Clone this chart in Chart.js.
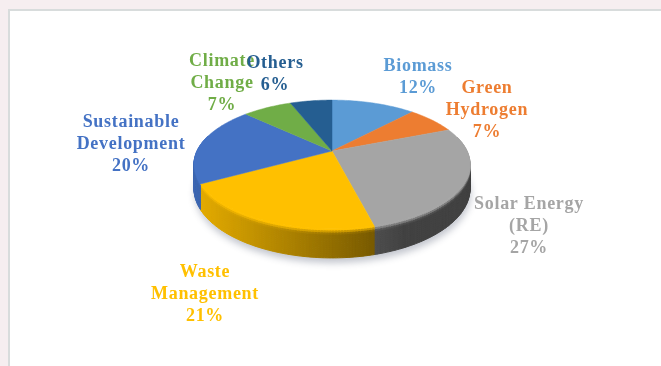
<!DOCTYPE html>
<html lang="en">
  <head>
    <meta charset="UTF-8" />
    <title>Research areas</title>
    <script src="https://cdn.jsdelivr.net/npm/chart.js"></script>
    <style>
      html, body { margin: 0; height: 100%; overflow: hidden; background: #f6eef0; }
      #panel {
        position: absolute; left: 8px; top: 9px; right: -4px; bottom: -4px;
        background: #fff; border: 2px solid #d8dcdc;
      }
      canvas { position: absolute; left: 0; top: 0; }
    </style>
  </head>
  <body>
    <div id="panel"></div>
    <canvas id="pie" width="661" height="366"></canvas>
    <script>
      const categories = ["Biomass", "Green Hydrogen", "Solar Energy (RE)", "Waste Management", "Sustainable Development", "Climate Change", "Others"];
      const values = [12, 7, 27, 21, 20, 7, 6];
      const sliceColors = ["#5b9bd5", "#ed7d31", "#a5a5a5", "#ffc000", "#4472c4", "#70ad47", "#255e91"];
      const labelLines = [["Biomass"], ["Green", "Hydrogen"], ["Solar Energy", "(RE)"], ["Waste", "Management"], ["Sustainable", "Development"], ["Climate", "Change"], ["Others"]];
      const labelCenters = [[418, 66], [487, 88], [529, 204], [205, 272], [131, 122], [222, 61], [275, 63]];
      const lineHeight = 22;

      // tilt of the disc: squash of the y axis, perspective strength, wall height
      const squash = 0.456;
      const persp = 0.209;
      const wall = 23;

      function project(arc, angle, drop) {
        const u = Math.cos(angle);
        const v = -Math.sin(angle);
        const w = 1 + persp * v;
        const r = arc.outerRadius;
        return [arc.x + (r * u) / w, arc.y - (r * squash * v) / w + drop / w];
      }

      function mix(hex, target, f) {
        const n = parseInt(hex.slice(1), 16);
        const c = [n >> 16, (n >> 8) & 255, n & 255];
        return "rgb(" + c.map((x) => Math.round(x + (target - x) * f)).join(",") + ")";
      }

      function sliceAngles(arc, stepSize) {
        const n = Math.max(2, Math.ceil((arc.endAngle - arc.startAngle) / stepSize));
        const out = [];
        for (let i = 0; i <= n; i++) out.push(arc.startAngle + ((arc.endAngle - arc.startAngle) * i) / n);
        return out;
      }

      function drawShadow(ctx, arcs) {
        ctx.save();
        ctx.shadowColor = "rgba(40,50,80,0.28)";
        ctx.shadowBlur = 7;
        ctx.shadowOffsetX = 1;
        ctx.shadowOffsetY = 5;
        ctx.fillStyle = "#fff";
        ctx.beginPath();
        arcs.forEach((arc) => {
          sliceAngles(arc, 0.03).forEach((a) => {
            const p = project(arc, a, wall);
            ctx.lineTo(p[0], p[1]);
          });
        });
        ctx.closePath();
        ctx.fill();
        ctx.restore();
      }

      // side of the disc, shaded across its width and down its height
      function drawWall(ctx, arc, color) {
        const angles = sliceAngles(arc, 0.017);
        const rows = 14;
        const left = arc.x - arc.outerRadius;
        const span = arc.outerRadius * 2;
        for (let i = 0; i < angles.length - 1; i++) {
          if (Math.sin(angles[i]) < -0.25) continue;
          for (let j = 0; j < rows; j++) {
            const a = project(arc, angles[i], (wall * j) / rows);
            const b = project(arc, angles[i + 1], (wall * j) / rows);
            const c = project(arc, angles[i + 1], (wall * (j + 1)) / rows);
            const d = project(arc, angles[i], (wall * (j + 1)) / rows);
            const s = (a[0] - left) / span;
            const t = j / rows;
            let dark = Math.min(0.6, 0.1 + 0.65 * s);
            if (t < 0.16) dark *= t / 0.16;
            const fill = mix(color, 0, dark);
            ctx.fillStyle = fill;
            ctx.strokeStyle = fill;
            ctx.lineWidth = 1;
            ctx.beginPath();
            ctx.moveTo(a[0], a[1]);
            ctx.lineTo(b[0], b[1]);
            ctx.lineTo(c[0], c[1]);
            ctx.lineTo(d[0], d[1]);
            ctx.closePath();
            ctx.fill();
            ctx.stroke();
          }
        }
      }

      function drawTop(ctx, arc, color) {
        ctx.fillStyle = color;
        ctx.strokeStyle = color;
        ctx.lineWidth = 0.5;
        ctx.beginPath();
        ctx.moveTo(arc.x, arc.y);
        sliceAngles(arc, 0.02).forEach((a) => {
          const p = project(arc, a, 0);
          ctx.lineTo(p[0], p[1]);
        });
        ctx.closePath();
        ctx.fill();
        ctx.stroke();
      }

      // the arcs keep their angles from Chart.js and are drawn on a tilted disc
      const tiltedPie = {
        id: "tiltedPie",
        beforeDatasetDraw(chart) {
          const ctx = chart.ctx;
          const arcs = chart.getDatasetMeta(0).data;
          drawShadow(ctx, arcs);
          arcs.forEach((arc, i) => drawWall(ctx, arc, sliceColors[i]));
          arcs.forEach((arc, i) => drawTop(ctx, arc, sliceColors[i]));
          return false;
        },
      };

      const sliceLabels = {
        id: "sliceLabels",
        afterDraw(chart) {
          const ctx = chart.ctx;
          ctx.save();
          ctx.font = "bold 18px 'Liberation Serif'";
          ctx.letterSpacing = "0.7px";
          ctx.textAlign = "center";
          ctx.textBaseline = "middle";
          categories.forEach((name, i) => {
            const lines = labelLines[i].concat(values[i] + "%");
            ctx.fillStyle = sliceColors[i];
            lines.forEach((line, j) => {
              ctx.fillText(line, labelCenters[i][0], labelCenters[i][1] + j * lineHeight);
            });
          });
          ctx.restore();
        },
      };

      new Chart(document.getElementById("pie").getContext("2d"), {
        type: "pie",
        data: {
          labels: categories,
          datasets: [{ data: values, backgroundColor: sliceColors, borderWidth: 0 }],
        },
        options: {
          responsive: false,
          animation: false,
          layout: { padding: { left: 197, right: 194, top: 16, bottom: 80 } },
          plugins: { legend: { display: false }, tooltip: { enabled: false } },
        },
        plugins: [tiltedPie, sliceLabels],
      });
    </script>
  </body>
</html>
